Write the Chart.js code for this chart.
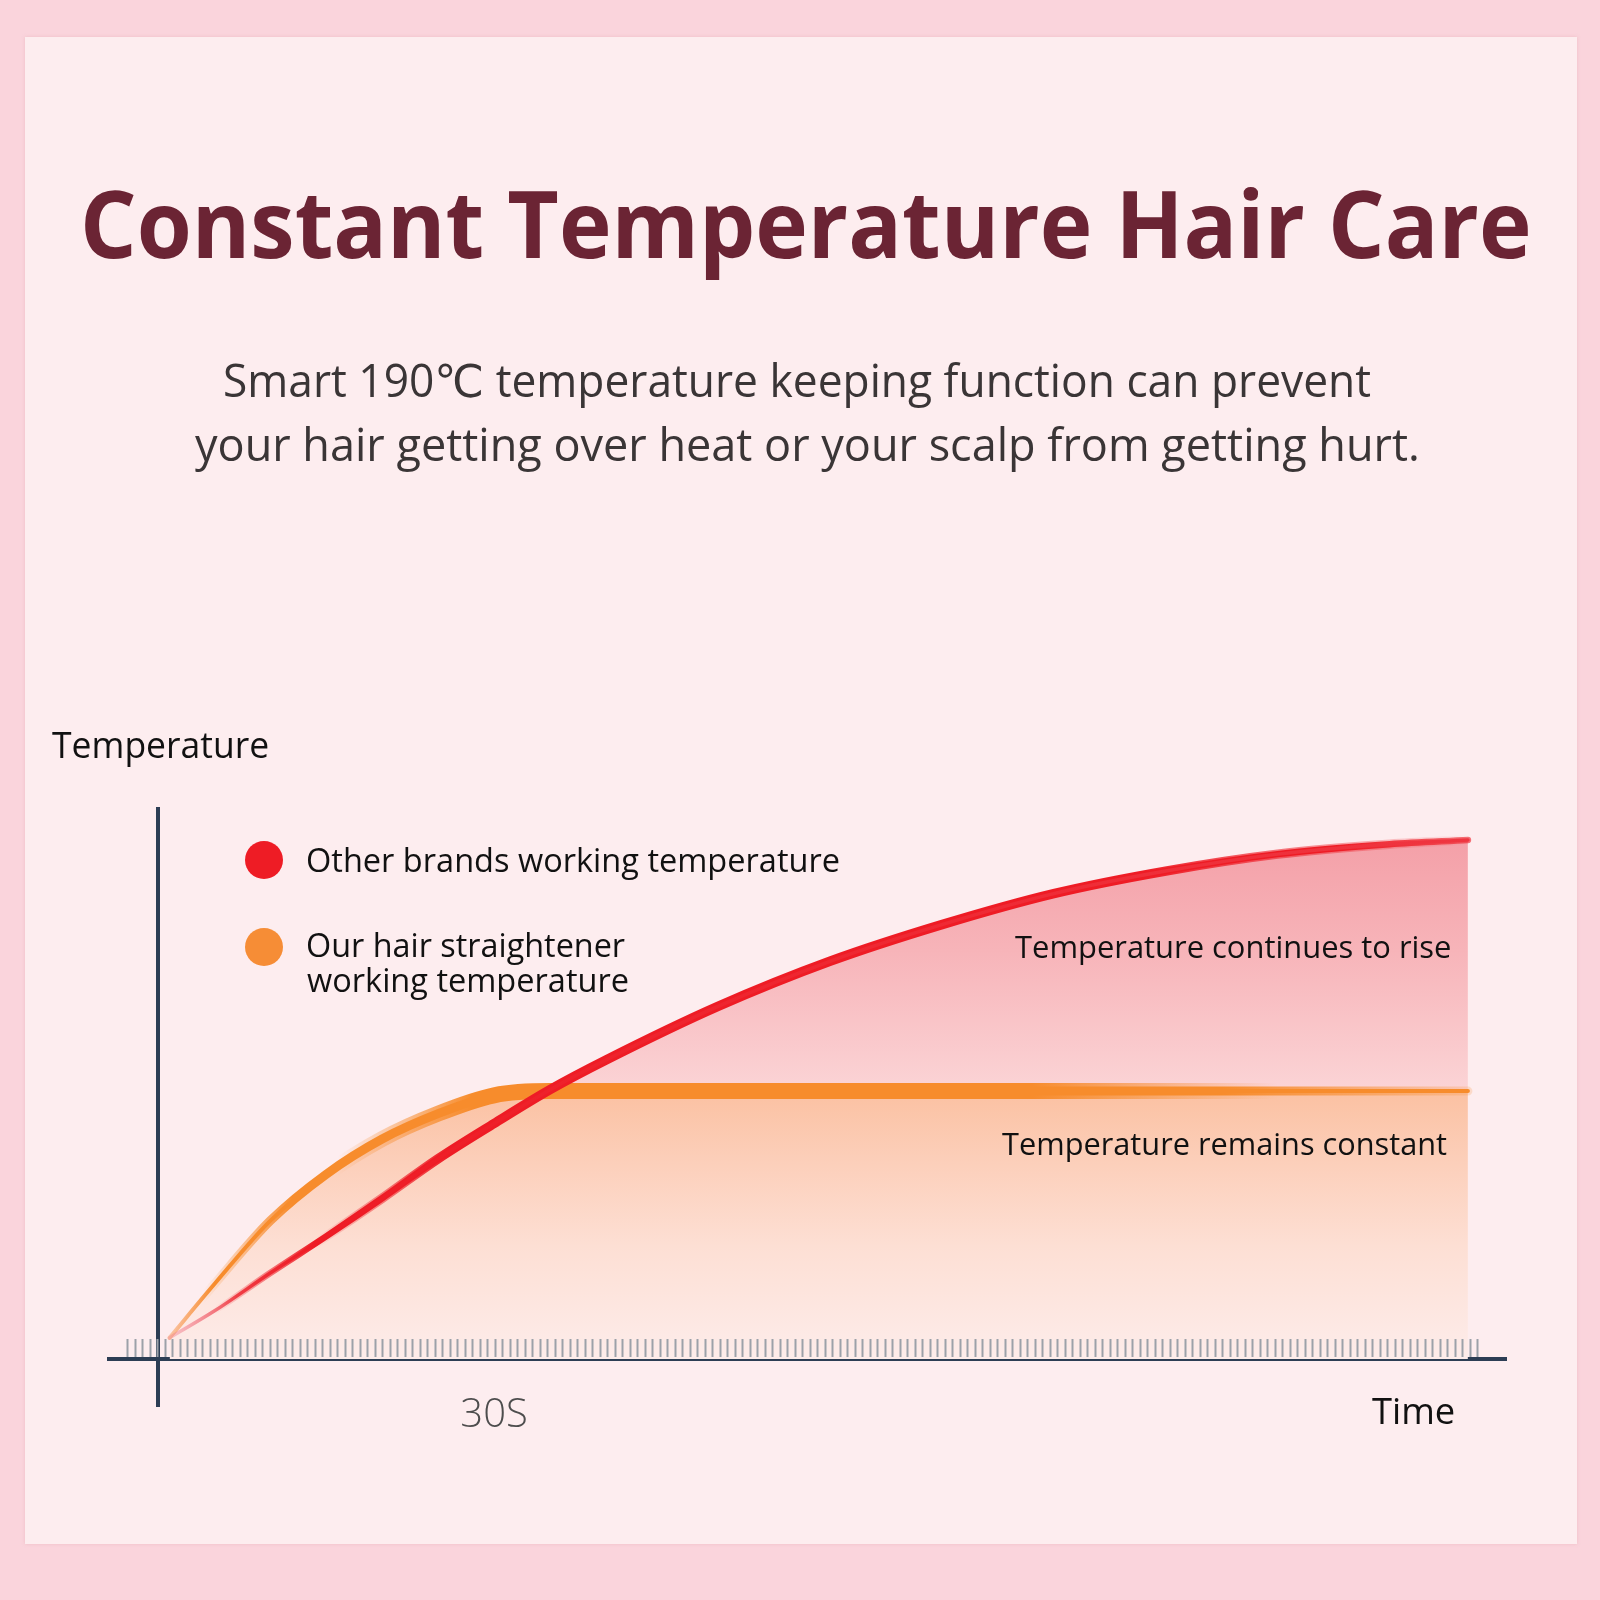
<!DOCTYPE html>
<html><head><meta charset="utf-8">
<script src="https://cdn.jsdelivr.net/npm/chart.js@4.4.1/dist/chart.umd.min.js"></script>
<style>
html,body{margin:0;padding:0;}
body{width:1600px;height:1600px;background:#fad4dc;position:relative;overflow:hidden;font-family:'Open Sans',sans-serif;}
#panel{position:absolute;left:25px;top:37px;width:1552px;height:1507px;background:#fdedef;box-shadow:0 0 3px rgba(230,170,180,0.5);}
#chart{position:absolute;left:0;top:0;z-index:1;}
.t{position:absolute;white-space:nowrap;z-index:2;transform-origin:0 0;}
.dot{position:absolute;border-radius:50%;z-index:2;}
</style></head>
<body>
<div id="panel"></div>
<canvas id="chart" width="1600" height="1600"></canvas>
<script>
// ---- data ----
const timeSec         = [1, 5, 10, 15, 20, 25, 30, 35, 40, 50, 60, 70, 80, 90, 100, 110, 117];
const otherBrandsTemp = [15, 34, 61, 87, 114, 142, 167, 191, 212, 250, 282, 308, 330, 346, 358, 365, 368];
const ourTemp         = [15, 53, 98, 131, 156, 174, 187, 190, 190, 190, 190, 190, 190, 190, 190, 190, 190];
const xTickLabels = {30: '30S'};
const legendLines = [['Other brands working temperature'], ['Our hair straightener', 'working temperature']];
const titleText = 'Constant Temperature Hair Care';
const subtitleLines = ['Smart 190\u2103 temperature keeping function can prevent', 'your hair getting over heat or your scalp from getting hurt.'];
const yAxisTitle = 'Temperature';
const xAxisTitle = 'Time';
const annotations = ['Temperature continues to rise', 'Temperature remains constant'];

// ---- text helper ----
const mctx = document.createElement('canvas').getContext('2d');
function addText(text, o) {
  const family = o.family || "'Open Sans', 'DejaVu Sans', sans-serif";
  const font = `${o.weight || 400} ${o.size}px ${family}`;
  mctx.font = font;
  const m = mctx.measureText(text);
  const asc = m.fontBoundingBoxAscent, desc = m.fontBoundingBoxDescent;
  const ink = m.actualBoundingBoxLeft + m.actualBoundingBoxRight;
  const sx = o.width ? o.width / ink : 1;
  const d = document.createElement('div');
  d.className = 't';
  d.textContent = text;
  Object.assign(d.style, {
    font: font, color: o.color || '#111',
    left: (o.x + m.actualBoundingBoxLeft * sx) + 'px',
    top: (o.baseline - asc) + 'px',
    lineHeight: (asc + desc) + 'px',
    transform: `scaleX(${sx})`
  });
  document.body.appendChild(d);
}
addText(titleText, {x: 85, baseline: 258, size: 93, weight: 700, color: '#6b2434', width: 1443});
addText(subtitleLines[0], {x: 225, baseline: 397, size: 45, color: '#3a3536', width: 1145});
addText(subtitleLines[1], {x: 195, baseline: 461, size: 45, color: '#3a3536', width: 1222});
addText(yAxisTitle, {x: 52, baseline: 758, size: 36, color: '#111', width: 216});
addText(legendLines[0][0], {x: 307, baseline: 872, size: 32, width: 532});
addText(legendLines[1][0], {x: 307, baseline: 957, size: 32, width: 318});
addText(legendLines[1][1], {x: 307, baseline: 992, size: 32, width: 321});
addText(annotations[0], {x: 1015, baseline: 958, size: 31, width: 435});
addText(annotations[1], {x: 1002, baseline: 1155, size: 31, width: 445});
addText(xAxisTitle, {x: 1372, baseline: 1424, size: 36, width: 82});
function addDot(cx, cy, r, color) {
  const d = document.createElement('div');
  d.className = 'dot';
  Object.assign(d.style, {left: (cx - r) + 'px', top: (cy - r) + 'px', width: 2 * r + 'px', height: 2 * r + 'px', background: color});
  document.body.appendChild(d);
}
addDot(264, 860, 19, '#ee1c25');
addDot(264, 947, 19, '#f68d36');

const tickMarks = {
  id: 'tickMarks',
  afterDatasetsDraw(chart) {
    const {ctx, scales: {x, y}} = chart;
    const y0 = y.getPixelForValue(0);
    ctx.save();
    ctx.strokeStyle = '#9ca1a9';
    ctx.lineWidth = 2;
    ctx.beginPath();
    for (let t = -2.77; t <= 118.1; t += 0.67) {
      const px = Math.round(x.getPixelForValue(t)) + 0.5;
      ctx.moveTo(px, y0 - 20);
      ctx.lineTo(px, y0 - 2);
    }
    ctx.stroke();
    ctx.restore();
  }
};

const pts = arr => timeSec.map((t, i) => ({x: t, y: arr[i]}));
const lineBase = {pointRadius: 0, cubicInterpolationMode: 'monotone', borderCapStyle: 'round', borderJoinStyle: 'round', fill: false};
const areaBase = {pointRadius: 0, cubicInterpolationMode: 'monotone', borderWidth: 0, borderColor: 'rgba(0,0,0,0)'};

// stroke layers: [series, width]; later layers (higher index) are drawn underneath
const chart = new Chart(document.getElementById('chart'), {
  type: 'line',
  data: {
    datasets: [
      Object.assign({label: legendLines[0].join(' '), data: pts(otherBrandsTemp), borderWidth: 3.5}, lineBase), // 0 red core
      Object.assign({label: 'red mid', data: pts(otherBrandsTemp), borderWidth: 6.5}, lineBase),                // 1
      Object.assign({label: 'red body', data: pts(otherBrandsTemp), borderWidth: 9.5}, lineBase),               // 2
      Object.assign({label: legendLines[1].join(' '), data: pts(ourTemp), borderWidth: 4}, lineBase),           // 3 orange core
      Object.assign({label: 'orange mid', data: pts(ourTemp), borderWidth: 9}, lineBase),                       // 4
      Object.assign({label: 'orange body', data: pts(ourTemp), borderWidth: 16}, lineBase),                     // 5
      Object.assign({label: 'rise area', data: pts(otherBrandsTemp),
        fill: {target: 7, above: 'rgba(246,170,176,0.8)', below: 'rgba(0,0,0,0)'}}, areaBase),                 // 6
      Object.assign({label: 'constant area', data: pts(ourTemp),
        fill: {target: 'origin', above: 'rgba(251,200,170,0.8)', below: 'rgba(0,0,0,0)'}}, areaBase)            // 7
    ]
  },
  options: {
    responsive: false,
    animation: false,
    devicePixelRatio: 1,
    layout: {padding: {left: 109, right: 94, top: 809, bottom: 194}},
    plugins: {
      legend: {display: false},
      tooltip: {enabled: false},
      filler: {drawTime: 'beforeDatasetsDraw'}
    },
    scales: {
      x: {
        type: 'linear', min: -4.4, max: 120.4, position: {y: 0}, z: 1,
        grid: {drawOnChartArea: false, drawTicks: false},
        border: {display: true, color: '#2c3d54', width: 4},
        afterBuildTicks: ax => { ax.ticks = Object.keys(xTickLabels).map(v => ({value: +v})); },
        ticks: {
          callback: v => xTickLabels[v] ?? '',
          color: '#4d4d4d', autoSkip: false, maxRotation: 0, padding: 33,
          font: {family: "'Open Sans'", size: 40, weight: 300}
        }
      },
      y: {
        type: 'linear', min: -33.3, max: 390, position: {x: 0}, z: 1,
        grid: {drawOnChartArea: false, drawTicks: false},
        border: {display: true, color: '#2c3d54', width: 4},
        ticks: {display: false}
      }
    }
  },
  plugins: [tickMarks]
});

// gradients built through the chart's own scales
(function applyGradients() {
  const ctx = chart.ctx, xs = chart.scales.x, ys = chart.scales.y;
  function vGrad(stops) {
    const y1 = ys.getPixelForValue(stops[0][0]), y2 = ys.getPixelForValue(stops[stops.length - 1][0]);
    const g = ctx.createLinearGradient(0, y1, 0, y2);
    stops.forEach(([v, c]) => g.addColorStop((ys.getPixelForValue(v) - y1) / (y2 - y1), c));
    return g;
  }
  function hGrad(stops) {
    const x1 = xs.getPixelForValue(stops[0][0]), x2 = xs.getPixelForValue(stops[stops.length - 1][0]);
    const g = ctx.createLinearGradient(x1, 0, x2, 0);
    stops.forEach(([v, c]) => g.addColorStop((xs.getPixelForValue(v) - x1) / (x2 - x1), c));
    return g;
  }
  const R = a => `rgba(238,28,37,${a})`, O = a => `rgba(247,140,44,${a})`;
  const ds = chart.data.datasets;
  ds[0].borderColor = hGrad([[0.5, 'rgba(240,130,150,0.3)'], [7, 'rgba(238,40,50,0.85)'], [14, R(1)], [117, '#ef3540']]);
  ds[1].borderColor = hGrad([[0.5, R(0)], [5, R(0)], [14, R(1)], [105, R(1)], [117, R(0.6)]]);
  ds[2].borderColor = hGrad([[0.5, R(0)], [14, R(0)], [26, R(1)], [88, R(1)], [117, R(0)]]);
  ds[3].borderColor = hGrad([[0.5, 'rgba(247,150,80,0.4)'], [5, O(1)], [117, O(1)]]);
  ds[4].borderColor = hGrad([[0.5, O(0)], [4, O(0)], [12, O(1)], [95, O(1)], [117, O(0.2)]]);
  ds[5].borderColor = hGrad([[0.5, O(0)], [16, O(0)], [28, O(1)], [78, O(1)], [100, O(0)]]);
  ds[6].fill.above = vGrad([[368, '#f4a0a8'], [290, '#f7b4b9'], [190, '#fbd4d6']]);
  ds[7].fill.above = vGrad([[190, '#fbc1a2'], [140, '#fccfba'], [80, '#fddfd4'], [0, '#fdecea']]);
  chart.update('none');
})();
</script>
</body></html>
